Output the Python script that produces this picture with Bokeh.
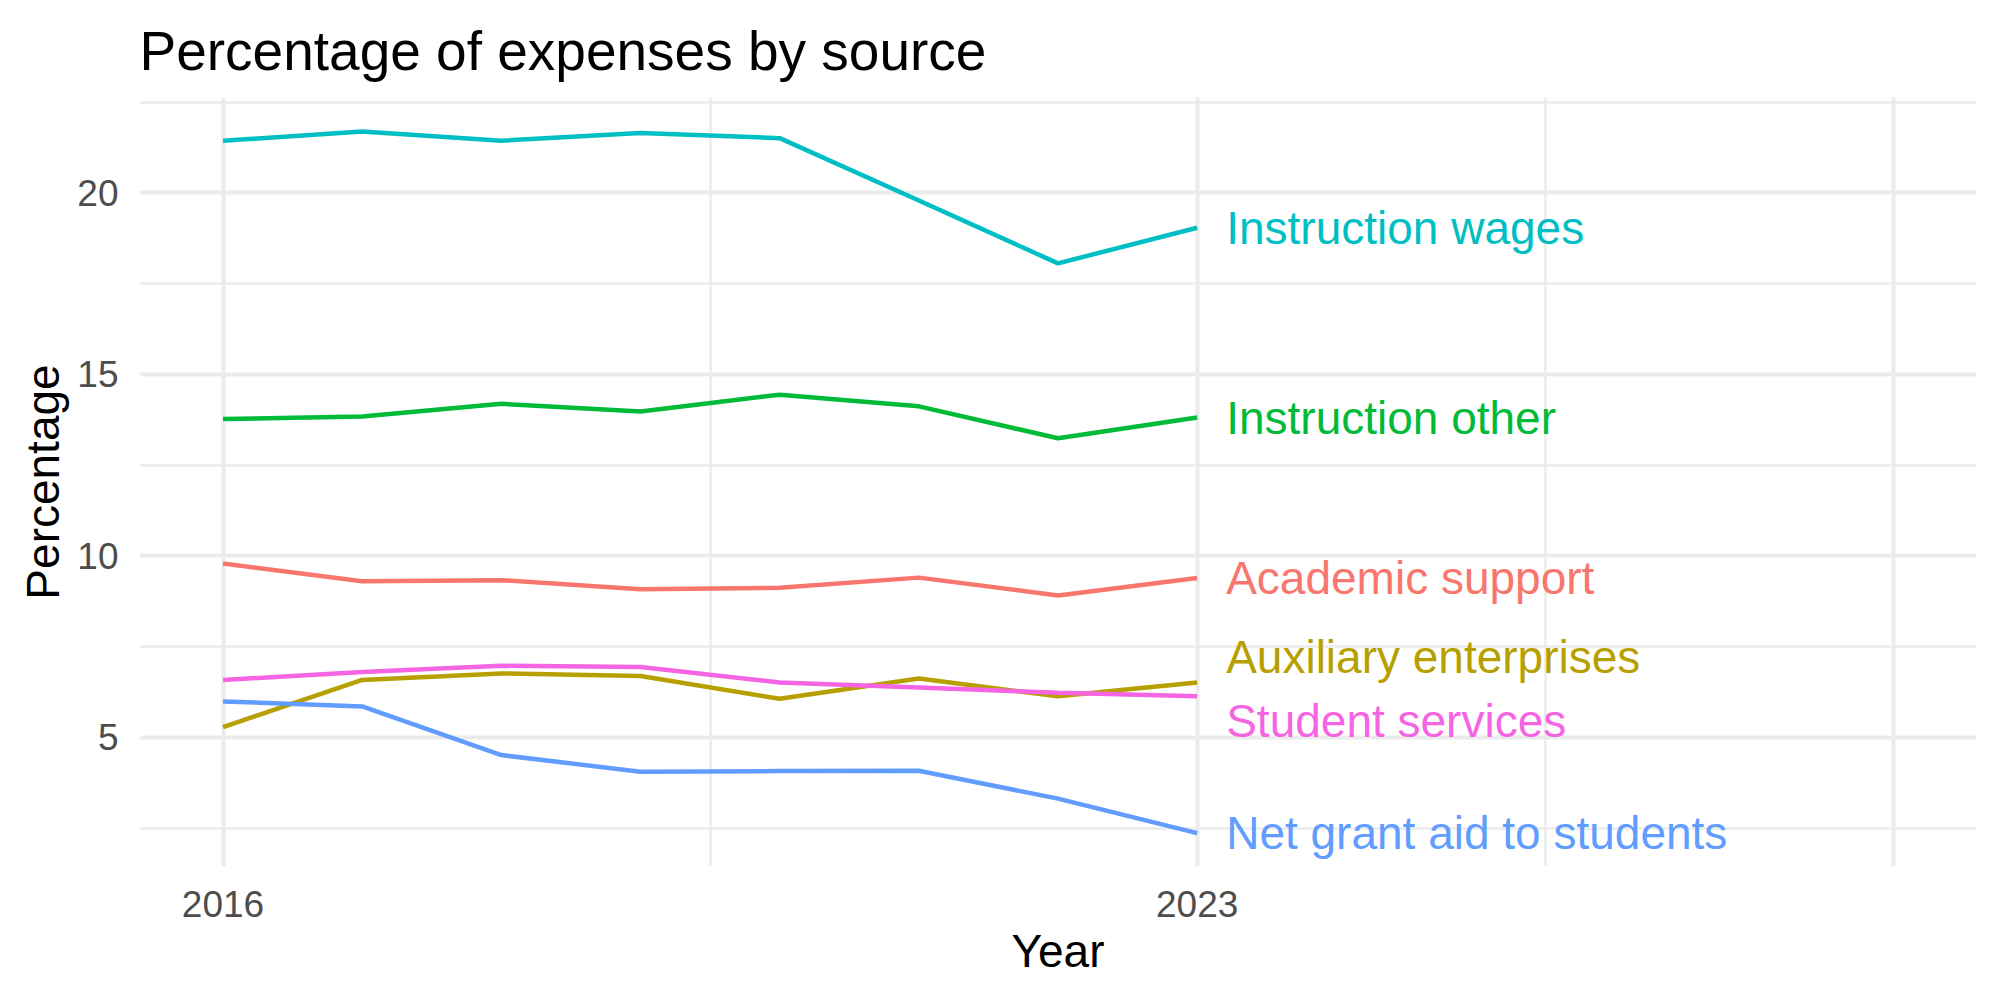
from bokeh.plotting import figure
from bokeh.models import ColumnDataSource, FixedTicker, Range1d
from bokeh.core.properties import value
from bokeh.embed import file_html
from bokeh.resources import INLINE

# Share of expenses by source, 2016-2023
years = [2016, 2017, 2018, 2019, 2020, 2021, 2022, 2023]
sources = [
    "Academic support",
    "Auxiliary enterprises",
    "Instruction other",
    "Instruction wages",
    "Net grant aid to students",
    "Student services",
]
academic_support = [9.79, 9.30, 9.33, 9.08, 9.12, 9.40, 8.91, 9.39]
auxiliary_enterprises = [5.28, 6.58, 6.76, 6.69, 6.06, 6.62, 6.13, 6.51]
instruction_other = [13.77, 13.84, 14.19, 13.98, 14.44, 14.12, 13.24, 13.81]
instruction_wages = [21.44, 21.69, 21.44, 21.65, 21.51, 19.79, 18.06, 19.04]
net_grant_aid = [5.99, 5.85, 4.51, 4.05, 4.07, 4.08, 3.31, 2.36]
student_services = [6.58, 6.80, 6.97, 6.94, 6.51, 6.37, 6.23, 6.13]

series = [academic_support, auxiliary_enterprises, instruction_other,
          instruction_wages, net_grant_aid, student_services]
colors = ["#F8766D", "#B79F00", "#00BA38", "#00BFC4", "#619CFF", "#F564E3"]

y_ticks = [5, 10, 15, 20]
y_minor = [2.5, 7.5, 12.5, 17.5, 22.5]
x_ticks = [2016, 2023, 2028]
x_minor = [2019.5, 2025.5]

FONT = "Liberation Sans"
GRID = "#EBEBEB"


def spread_labels(vals, gap, rounds=20):
    """Push end labels apart so neighbouring labels keep a minimum gap."""
    pos = list(vals)
    order = sorted(range(len(pos)), key=lambda i: pos[i])
    for _ in range(rounds):
        moved = False
        for a, b in zip(order[:-1], order[1:]):
            if pos[b] - pos[a] < gap - 1e-9:
                mid = (pos[a] + pos[b]) / 2
                pos[a], pos[b] = mid - gap / 2, mid + gap / 2
                moved = True
        if not moved:
            break
    return pos


p = figure(
    width=2000, height=1000,
    output_backend="svg", toolbar_location=None,
    x_range=Range1d(2015.4, 2028.6), y_range=Range1d(1.44, 22.63),
    min_border_left=139, min_border_right=24,
    min_border_top=97, min_border_bottom=134,
)
p.outline_line_color = None
p.background_fill_color = "white"
p.border_fill_color = "white"

# Title
p.title.text = "Percentage of expenses by source"
p.title.text_font = FONT
p.title.text_font_size = "55px"
p.title.text_font_style = "normal"
p.title.text_color = "black"
p.title.standoff = 31

# Axes
xt = FixedTicker(ticks=x_ticks, minor_ticks=x_minor)
yt = FixedTicker(ticks=y_ticks, minor_ticks=y_minor)
p.xaxis.ticker = xt
p.yaxis.ticker = yt
p.xgrid.ticker = xt
p.ygrid.ticker = yt
p.xaxis.major_label_overrides = {2028: ""}

for ax in (p.xaxis[0], p.yaxis[0]):
    ax.axis_line_color = None
    ax.major_tick_line_color = None
    ax.minor_tick_line_color = None
    ax.major_tick_out = 0
    ax.major_tick_in = 0
    ax.major_label_text_font = FONT
    ax.major_label_text_font_size = "37px"
    ax.major_label_text_color = "#4D4D4D"
    ax.axis_label_text_font = FONT
    ax.axis_label_text_font_size = "46px"
    ax.axis_label_text_font_style = "normal"
    ax.axis_label_text_color = "black"

p.xaxis.axis_label = "Year"
p.yaxis.axis_label = "Percentage"
p.xaxis.major_label_standoff = 20
p.xaxis.axis_label_standoff = 5
p.yaxis.major_label_standoff = 17
p.yaxis.axis_label_standoff = 5

# Grid
for g in (p.xgrid[0], p.ygrid[0]):
    g.grid_line_color = GRID
    g.grid_line_width = 4
    g.minor_grid_line_color = GRID
    g.minor_grid_line_width = 2.5

# Lines
for vals, col in zip(series, colors):
    p.line(years, vals, line_color=col, line_width=4.5)

# End-of-line labels
last_vals = [s[-1] for s in series]
label_y = spread_labels(last_vals, 1.76)
label_src = ColumnDataSource(dict(
    x=[years[-1]] * len(sources),
    y=label_y,
    text=sources,
    color=colors,
))
p.text(x="x", y="y", text="text", source=label_src, text_color="color",
       text_font=value(FONT), text_font_size="46px",
       text_align="left", text_baseline="middle", x_offset=29)

open("out.html", "w").write(file_html(p, INLINE))
